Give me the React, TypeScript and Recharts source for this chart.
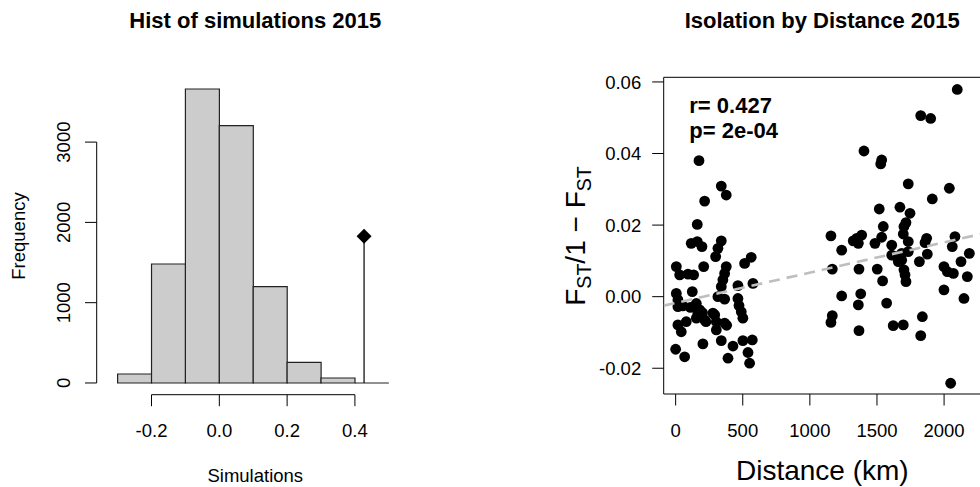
import React from 'react';
import {
  ComposedChart,
  Bar,
  XAxis,
  YAxis,
  ReferenceLine,
  ReferenceDot,
  ScatterChart,
  Scatter,
  Label,
} from 'recharts';

const FONT = '"Liberation Sans", Arial, Helvetica, sans-serif';

// ---------- Histogram (left panel) ----------
const binLow = [-0.3, -0.2, -0.1, 0.0, 0.1, 0.2, 0.3, 0.4];
const binHigh = [-0.2, -0.1, 0.0, 0.1, 0.2, 0.3, 0.4, 0.5];
const binCounts = [112, 1482, 3661, 3204, 1199, 257, 62, 0];
const simTicks = [-0.2, 0.0, 0.2, 0.4];
const freqTicks = [0, 1000, 2000, 3000];
const observedR = 0.427;
const observedMarkerFreq = 1826;

// ---------- Isolation by distance (right panel) ----------
// [distance km, Fst/(1-Fst)]
const nearPairs: [number, number][] = [
  [174, 0.038], [340, 0.0309], [377, 0.0284], [216, 0.0267], [161, 0.0202],
  [116, 0.0149], [161, 0.0154], [196, 0.014], [340, 0.0156], [315, 0.0135],
  [298, 0.0112], [563, 0.011], [514, 0.0093], [5, 0.0084], [30, 0.0061],
  [92, 0.0063], [134, 0.0061], [209, 0.0084], [377, 0.0084], [365, 0.0065],
  [352, 0.0047], [340, 0.0028], [464, 0.0031], [576, 0.0037], [5, 0.0009],
  [17, -0.0009], [124, 0.0014], [17, -0.0028], [54, -0.0026], [154, -0.0019],
  [179, -0.0037], [191, -0.0051], [216, -0.0065], [315, 0.0], [365, -0.0007],
  [464, -0.0005], [472, -0.0025], [489, -0.0042], [501, -0.006], [291, -0.0051],
  [303, -0.007], [365, -0.0074], [380, -0.008], [303, -0.0093], [79, -0.007],
  [17, -0.0079], [42, -0.0098], [154, -0.006], [226, -0.007], [166, -0.0046],
  [110, -0.003], [200, -0.0045], [278, -0.0046], [203, -0.0132], [340, -0.0123],
  [427, -0.0138], [501, -0.0123], [571, -0.0121], [539, -0.0156], [551, -0.0186],
  [390, -0.0172], [0, -0.0147], [67, -0.0168],
];
const farPairs: [number, number][] = [
  [2098, 0.0579], [1826, 0.0506], [1900, 0.0498], [1403, 0.0407], [1535, 0.0382],
  [1528, 0.0371], [1733, 0.0315], [2039, 0.0303], [1912, 0.0273], [1517, 0.0245],
  [1671, 0.025], [1746, 0.0233], [1716, 0.0207], [1701, 0.0196], [1547, 0.0196],
  [1157, 0.017], [1323, 0.0156], [1349, 0.0163], [1386, 0.0172], [1361, 0.0149],
  [1485, 0.0149], [1535, 0.0166], [1696, 0.0175], [1733, 0.0154], [1870, 0.0163],
  [1858, 0.0151], [2081, 0.0168], [2061, 0.014], [1237, 0.013], [1610, 0.0144],
  [1610, 0.0116], [1684, 0.0121], [1733, 0.0126], [1875, 0.0119], [1816, 0.0098],
  [2188, 0.0121], [2126, 0.0098], [1999, 0.0084], [2024, 0.007], [2069, 0.0065],
  [2173, 0.0056], [1167, 0.0077], [1366, 0.0077], [1502, 0.0077], [1701, 0.0075],
  [1709, 0.0061], [1716, 0.0042], [1542, 0.0044], [1659, 0.0098], [1684, 0.0102],
  [1999, 0.0019], [2148, -0.0005], [1237, 0.0002], [1379, 0.0008], [1361, -0.0023],
  [1572, -0.0018], [1167, -0.0053], [1157, -0.0072], [1366, -0.0095], [1621, -0.0081],
  [1696, -0.0079], [1838, -0.0056], [1826, -0.0109], [2049, -0.0242], [1647, 0.0112],
];
const fitLine = [
  { d: -89, f: -0.0025 },
  { d: 2275, f: 0.0175 },
];
const distTicks = [0, 500, 1000, 1500, 2000];
const fstTicks = [-0.02, 0.0, 0.02, 0.04, 0.06];

const histData = binLow.map((lo, i) => ({ mid: (lo + binHigh[i]) / 2, count: binCounts[i] }));
const ibdData = [...nearPairs, ...farPairs].map(([d, f]) => ({ d, f }));

const H_X_DOMAIN: [number, number] = [-0.3617, 0.5743];
const H_Y_DOMAIN: [number, number] = [-146, 3807];
const S_X_DOMAIN: [number, number] = [-89, 2275];
const S_Y_DOMAIN: [number, number] = [-0.0272, 0.0613];

const RotTick = (props: any) => {
  const { x, y, payload } = props;
  return (
    <text
      transform={`translate(${x - 15},${y}) rotate(-90)`}
      textAnchor="middle"
      fontSize={18.5}
      fill="#000"
      fontFamily={FONT}
    >
      {payload.value}
    </text>
  );
};

const Diamond = (props: any) => {
  const { cx, cy } = props;
  const s = 7.5;
  return (
    <polygon
      points={`${cx},${cy - s} ${cx + s},${cy} ${cx},${cy + s} ${cx - s},${cy}`}
      fill="#000"
    />
  );
};

const Dot = (props: any) => {
  const { cx, cy } = props;
  return <circle cx={cx} cy={cy} r={5.4} fill="#000" />;
};

const NoDot = () => <g />;

export default function App() {
  return (
    <div
      style={{
        position: 'absolute',
        left: 0,
        top: 0,
        width: 980,
        height: 487,
        overflow: 'hidden',
        background: '#fff',
        fontFamily: FONT,
      }}
    >
      <div style={{ position: 'absolute', left: 0, top: 0 }}>
        <ComposedChart
          width={440}
          height={487}
          data={histData}
          barCategoryGap={0}
          barGap={0}
          margin={{ top: 77.3, right: 26, bottom: 0, left: 0 }}
        >
          <XAxis
            type="number"
            dataKey="mid"
            domain={H_X_DOMAIN}
            allowDataOverflow
            ticks={simTicks}
            interval={0}
            axisLine={false}
            tickLine={{ stroke: '#000' }}
            tickSize={11.5}
            tickMargin={18}
            height={92.3}
            tick={{ fontSize: 18.5, fill: '#000', fontFamily: FONT }}
            tickFormatter={(v: number) => v.toFixed(1)}
          >
            <Label
              content={() => (
                <text x={255.3} y={481.7} textAnchor="middle" fontSize={18.5} fill="#000" fontFamily={FONT}>
                  Simulations
                </text>
              )}
            />
          </XAxis>
          <YAxis
            type="number"
            domain={H_Y_DOMAIN}
            allowDataOverflow
            ticks={freqTicks}
            interval={0}
            axisLine={false}
            tickLine={{ stroke: '#000' }}
            tickSize={11.7}
            tickMargin={0}
            width={96.7}
            tick={<RotTick />}
          >
            <Label
              content={() => (
                <text
                  transform="translate(25,236) rotate(-90)"
                  textAnchor="middle"
                  fontSize={18.5}
                  fill="#000"
                  fontFamily={FONT}
                >
                  Frequency
                </text>
              )}
            />
          </YAxis>
          <Bar
            dataKey="count"
            fill="#CCCCCC"
            stroke="#222"
            strokeWidth={1.2}
            isAnimationActive={false}
          />
          <ReferenceLine
            segment={[
              { x: simTicks[0], y: H_Y_DOMAIN[0] },
              { x: simTicks[simTicks.length - 1], y: H_Y_DOMAIN[0] },
            ]}
            stroke="#000"
            strokeWidth={1}
            ifOverflow="visible"
          />
          <ReferenceLine
            segment={[
              { x: H_X_DOMAIN[0], y: freqTicks[0] },
              { x: H_X_DOMAIN[0], y: freqTicks[freqTicks.length - 1] },
            ]}
            stroke="#000"
            strokeWidth={1}
            ifOverflow="visible"
          />
          <ReferenceLine
            segment={[
              { x: binLow[7], y: 0 },
              { x: binHigh[7], y: 0 },
            ]}
            stroke="#222"
            strokeWidth={1.2}
            ifOverflow="visible"
          />
          <ReferenceLine
            segment={[
              { x: observedR, y: 0 },
              { x: observedR, y: observedMarkerFreq },
            ]}
            stroke="#000"
            strokeWidth={1.2}
            ifOverflow="visible"
          />
          <ReferenceDot x={observedR} y={observedMarkerFreq} shape={<Diamond />} ifOverflow="visible" />
        </ComposedChart>
      </div>

      <div style={{ position: 'absolute', left: 540, top: 0 }}>
        <ScatterChart width={441} height={487} margin={{ top: 77.3, right: 0, bottom: 0, left: 0 }}>
          <XAxis
            type="number"
            dataKey="d"
            domain={S_X_DOMAIN}
            allowDataOverflow
            ticks={distTicks}
            interval={0}
            axisLine={{ stroke: '#000' }}
            tickLine={{ stroke: '#000' }}
            tickSize={11.5}
            tickMargin={18}
            height={93}
            tick={{ fontSize: 18.5, fill: '#000', fontFamily: FONT }}
          >
            <Label
              content={() => (
                <text x={282.3} y={480} textAnchor="middle" fontSize={28} fill="#000" fontFamily={FONT}>
                  Distance (km)
                </text>
              )}
            />
          </XAxis>
          <YAxis
            type="number"
            dataKey="f"
            domain={S_Y_DOMAIN}
            allowDataOverflow
            ticks={fstTicks}
            interval={0}
            axisLine={{ stroke: '#000' }}
            tickLine={{ stroke: '#000' }}
            tickSize={11.5}
            tickMargin={11}
            width={123.7}
            tick={{ fontSize: 18.5, fill: '#000', fontFamily: FONT }}
            tickFormatter={(v: number) => v.toFixed(2)}
          >
            <Label
              content={() => (
                <text
                  transform="translate(45,236) rotate(-90)"
                  textAnchor="middle"
                  fontSize={28}
                  fill="#000"
                  fontFamily={FONT}
                >
                  F
                  <tspan fontSize={19.6} dy={6}>ST</tspan>
                  <tspan fontSize={28} dy={-6}>{'/1 \u2212 F'}</tspan>
                  <tspan fontSize={19.6} dy={6}>ST</tspan>
                </text>
              )}
            />
          </YAxis>
          <ReferenceLine y={S_Y_DOMAIN[1]} stroke="#000" strokeWidth={1} ifOverflow="visible" />
          <Scatter data={ibdData} dataKey="f" shape={<Dot />} isAnimationActive={false} />
          <Scatter
            data={fitLine}
            dataKey="f"
            shape={<NoDot />}
            line={{ stroke: '#BEBEBE', strokeWidth: 2.6, strokeDasharray: '11 7' }}
            isAnimationActive={false}
          />
        </ScatterChart>
      </div>

      <svg
        width={980}
        height={487}
        style={{ position: 'absolute', left: 0, top: 0, pointerEvents: 'none' }}
      >
        <text x={255.3} y={28.3} textAnchor="middle" fontSize={22} fontWeight="bold" fill="#000" fontFamily={FONT}>
          Hist of simulations 2015
        </text>
        <text x={822.2} y={28.3} textAnchor="middle" fontSize={22} fontWeight="bold" fill="#000" fontFamily={FONT}>
          Isolation by Distance 2015
        </text>
        <text x={689.3} y={113.3} fontSize={22} fontWeight="bold" fill="#000" fontFamily={FONT}>
          r= 0.427
        </text>
        <text x={689.3} y={138.3} fontSize={22} fontWeight="bold" fill="#000" fontFamily={FONT}>
          p= 2e-04
        </text>
      </svg>
    </div>
  );
}
